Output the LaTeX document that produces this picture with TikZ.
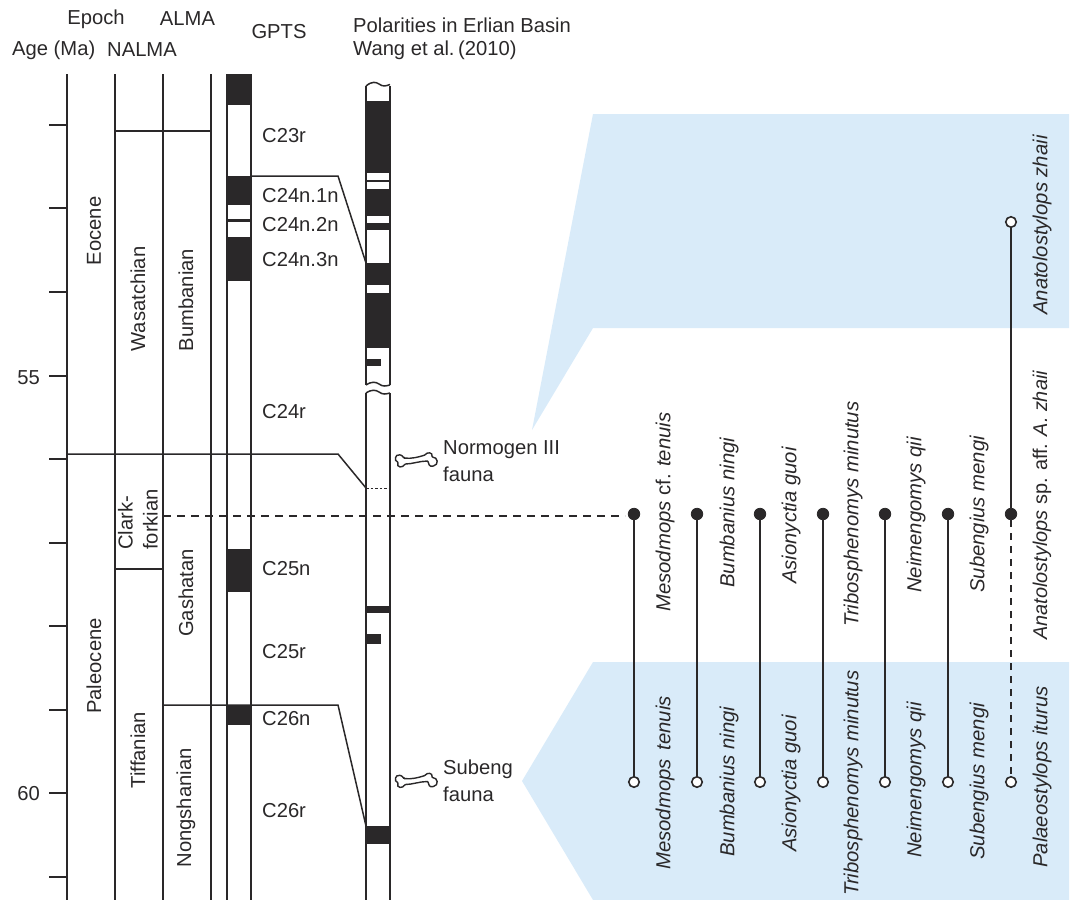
\documentclass[tikz,border=0pt]{standalone}
\usepackage{fontspec}
\setmainfont{Liberation Sans}
\definecolor{ink}{HTML}{2A2829}
\definecolor{pale}{HTML}{D9EBF9}
\tikzset{
  x=1pt,y=-1pt,
  rule/.style={draw=ink,line width=1.7pt},
  thin rule/.style={draw=ink,line width=1.5pt},
  chron/.style={fill=ink,draw=none},
  lab/.style={inner sep=0pt,text=ink,font=\fontsize{20.2}{25}\selectfont},
  leftlab/.style={lab,anchor=west},
  rot/.style={lab,rotate=90},
  sp/.style={lab,rotate=90,anchor=west,font=\fontsize{20.3}{25}\selectfont\itshape},
  fulldot/.style={circle,fill=ink,draw=ink,line width=.8pt,minimum size=11.5pt,inner sep=0pt},
  opendot/.style={circle,fill=white,draw=ink,line width=1.6pt,minimum size=10.5pt,inner sep=0pt},
}
\newcommand{\bonepath}[1]{%
  \begin{scope}[yshift=-#1pt]
  \draw[fill=white,draw=ink,line width=1.4pt,rounded corners=.6pt]
    (404,458) .. controls (411,459) and (419,457) .. (425,455)
    .. controls (427,452) and (433,452) .. (432,457)
    .. controls (438,457) and (439,465) .. (433,466)
    .. controls (430,467) and (428,464) .. (428,461)
    .. controls (420,461) and (412,464) .. (405,464)
    .. controls (403,468) and (396,468) .. (398,462)
    .. controls (394,461) and (395,454) .. (400,455)
    .. controls (402,455) and (403,457) .. (404,458) -- cycle;
  \end{scope}}
\begin{document}
\begin{tikzpicture}
\useasboundingbox (0,0) rectangle (1072,900);
% blue panels
\fill[pale] (593,114) -- (1069,114) -- (1069,328) -- (593,328) -- (532,430) -- cycle;
\fill[pale] (593,662) -- (1069,662) -- (1069,900) -- (593,900) -- (522,781) -- cycle;
% chron bars GPTS
\foreach \a/\b in {74/105,176/205,219/222,237/281,549/592,705/725}
  \fill[chron] (227,\a) rectangle (251,\b);
% chron bars Erlian
\foreach \a/\b in {101/173,180/181.5,189/216,223/230,263/285,293/348,606/613,826/844}
  \fill[chron] (366,\a) rectangle (390,\b);
\fill[chron] (366,359) rectangle (381,366);
\fill[chron] (366,634) rectangle (381,644);
% column rules
\foreach \x in {67,115,163,211,227,251}
  \draw[rule] (\x,74) -- (\x,900);
\draw[rule] (366,86) -- (366,385);
\draw[rule] (390,86) -- (390,385);
\draw[rule] (366,393) -- (366,900);
\draw[rule] (390,393) -- (390,900);
\draw[thin rule] (366,86) .. controls (372,81) and (376,82) .. (379,84) .. controls (383,87) and (386,86) .. (390,84.5);
\draw[thin rule] (366,385) .. controls (372,381) and (376,382) .. (379,384) .. controls (383,387) and (386,386) .. (390,385);
\draw[thin rule] (366,393) .. controls (372,389) and (376,390) .. (379,392) .. controls (383,395) and (386,394) .. (390,393);
% age ticks
\foreach \y in {125,208,292,376,459,543,626,710,793,877}
  \draw[rule] (49,\y) -- (67,\y);
% horizontal boundaries
\draw[rule] (115,131) -- (211,131);
\draw[rule] (115,569) -- (163,569);
\draw[thin rule] (67,454) -- (338,454) -- (366,488);
\draw[thin rule] (163,705) -- (338,705) -- (366,826);
\draw[thin rule] (251,176) -- (338,176) -- (366,263);
\draw[ink,line width=.8pt,dash pattern=on 2.5pt off 2pt] (366,488) -- (390,488);
\draw[ink,line width=1.1pt,dash pattern=on 8pt off 6pt] (163,516) -- (625,516);
% header
\node[lab] (hEpoch) at (96,19) {Epoch};
\node[lab] (hAlma) at (187.5,19) {ALMA};
\node[lab] (hGpts) at (279,32) {GPTS};
\node[leftlab] (hAge) at (12,50) {Age (Ma)};
\node[leftlab] (hNalma) at (107,50) {NALMA};
\node[leftlab] (hPol) at (353,25) {Polarities in Erlian Basin};
\node[leftlab] (hWang) at (353,50) {Wang et al.\kern-2pt\ (2010)};
% ages
\node[lab,anchor=east] (a55) at (40,378) {55};
\node[lab,anchor=east] (a60) at (40,794) {60};
% columns
\node[rot] (eoc) at (94,231) {Eocene};
\node[rot] (pal) at (94,666) {Paleocene};
\node[rot] (was) at (138,299) {Wasatchian};
\node[rot] (bum) at (186,300) {Bumbanian};
\node[rot,align=left] (cla) at (138,519.5) {Clark-\\forkian};
\node[rot] (gas) at (186,593) {Gashatan};
\node[rot] (tif) at (138,750) {Tiffanian};
\node[rot] (non) at (186,808) {Nongshanian};
% chron labels
\node[leftlab] (c1) at (262,136) {C23r};
\node[leftlab] (c2) at (262,196) {C24n.1n};
\node[leftlab] (c3) at (262,225) {C24n.2n};
\node[leftlab] (c4) at (262,260) {C24n.3n};
\node[leftlab] (c5) at (262,412) {C24r};
\node[leftlab] (c6) at (262,569) {C25n};
\node[leftlab] (c7) at (262,652) {C25r};
\node[leftlab] (c8) at (262,719) {C26n};
\node[leftlab] (c9) at (262,811) {C26r};
% faunas
\bonepath{0}
\bonepath{320.5}
\node[leftlab] (n1) at (443,450) {Normogen III};
\node[leftlab] (n2) at (443,474) {fauna};
\node[leftlab] (s1) at (443,769) {Subeng};
\node[leftlab] (s2) at (443,794) {fauna};
% ranges
\foreach \n/\x in {a/634,b/697,c/760,d/823,e/885,f/948,g/1011}{
  \node[fulldot] (f\n) at (\x,514) {};
  \node[opendot] (o\n) at (\x,782) {};
}
\node[opendot] (oz) at (1011,222) {};
\foreach \n in {a,b,c,d,e,f}
  \draw[rule] (f\n) -- (o\n);
\draw[rule] (oz) -- (fg);
\draw[ink,line width=1.4pt,dash pattern=on 7pt off 6pt] (fg) -- (og);
% species upper
\node[sp] (u1) at (665,612) {Mesodmops \textup{cf.} tenuis};
\node[sp] (u2) at (729,588) {Bumbanius ningi};
\node[sp] (u3) at (791,584) {Asionyctia guoi};
\node[sp] (u4) at (853,627) {Tribosphenomys minutus};
\node[sp] (u5) at (916,593) {Neimengomys qii};
\node[sp] (u6) at (979,593) {Subengius mengi};
\node[sp,font=\fontsize{19.9}{25}\selectfont\itshape] (u7) at (1042,640) {Anatolostylops \textup{sp. aff.} A. zhaii};
\node[sp] (u8) at (1042,315) {Anatolostylops zhaii};
% species lower
\node[sp] (l1) at (665,870) {Mesodmops\,\ tenuis};
\node[sp] (l2) at (729,857) {Bumbanius ningi};
\node[sp] (l3) at (791,852) {Asionyctia guoi};
\node[sp] (l4) at (853,896) {Tribosphenomys minutus};
\node[sp] (l5) at (916,858) {Neimengomys qii};
\node[sp] (l6) at (979,860) {Subengius mengi};
\node[sp] (l7) at (1042,868) {Palaeostylops iturus};
\end{tikzpicture}
\end{document}
